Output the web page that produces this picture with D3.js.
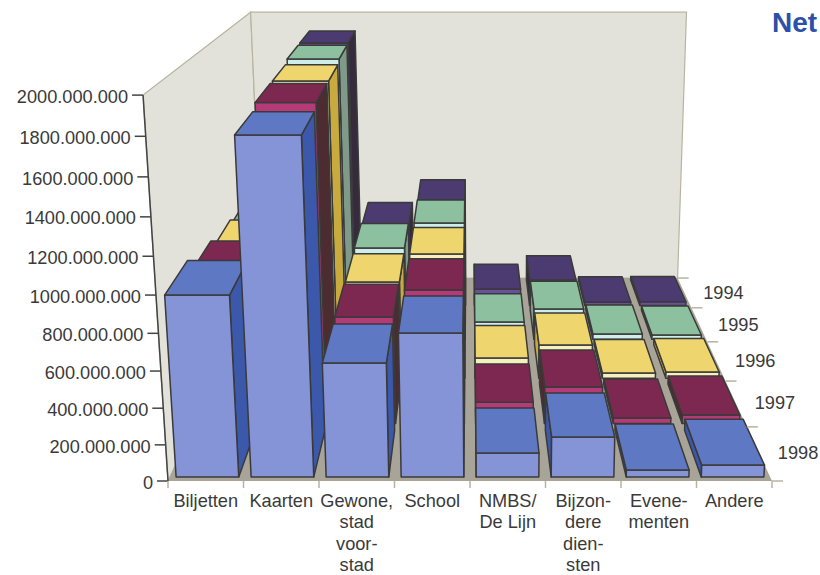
<!DOCTYPE html>
<html lang="nl">
<head>
  <meta charset="UTF-8">
  <title>Net</title>
  <script src="https://d3js.org/d3.v7.min.js"></script>
  <style>
    body { margin: 0; background: #fff; overflow: hidden; }
    text { font-family: "Liberation Sans", Arial, sans-serif; font-size: 18.2px; fill: #3a3a3a; }
    #heading { font-size: 28px; font-weight: 700; fill: #2c50a8; }
  </style>
</head>
<body>
  <div id="chart"></div>
  <script>
    // Data
    const categories = ["Biljetten", "Kaarten", "Gewone", "School", "NMBS", "Bijzonder", "Evenementen", "Andere"];
    const categoryLabels = [
      ["Biljetten"], ["Kaarten"], ["Gewone,", "stad", "voor-", "stad"], ["School"],
      ["NMBS/", "De Lijn"], ["Bijzon-", "dere", "dien-", "sten"], ["Evene-", "menten"], ["Andere"]
    ];
    const years = ["1998", "1997", "1996", "1995", "1994"];
    const values1998 = [984e6, 1796e6, 624e6, 784e6, 133e6, 222e6, 38e6, 66e6];
    const values1997 = [895e6, 1827e6, 630e6, 787e6, 128e6, 218e6, 33e6, 51e6];
    const values1996 = [836e6, 1825e6, 613e6, 787e6, 130e6, 214e6, 33e6, 40e6];
    const values1995 = [800e6, 1846e6, 623e6, 789e6, 119e6, 209e6, 37e6, 30e6];
    const values1994 = [780e6, 1848e6, 593e6, 765e6, 122e6, 188e6, 26e6, 28e6];
    const seriesValues = [values1998, values1997, values1996, values1995, values1994];
    const yTicks = [0, 200e6, 400e6, 600e6, 800e6, 1000e6, 1200e6, 1400e6, 1600e6, 1800e6, 2000e6];
    const yTickLabels = ["0", "200.000.000", "400.000.000", "600.000.000", "800.000.000", "1000.000.000",
      "1200.000.000", "1400.000.000", "1600.000.000", "1800.000.000", "2000.000.000"];

    // Face colours per year, same order as years
    const frontColors = ["#8494d6", "#b53a78", "#f6efbe", "#cdeeea", "#6a4f9c"];
    const topColors = ["#5f78c4", "#7d2850", "#efd56e", "#8cc09e", "#4b3b70"];
    const sideColors = ["#3c58aa", "#4c2c30", "#c8aa3e", "#7f9a88", "#352b3c"];

    const width = 820;
    const height = 575;

    const svg = d3.select("#chart").append("svg")
      .attr("width", width)
      .attr("height", height);

    // Scales: category across, year into the page, value upward
    const floorWidth = 604;
    const xScale = d3.scaleBand().domain(categories).range([0, floorWidth])
      .paddingInner(0.165).paddingOuter(0.0825);
    const depthScale = d3.scaleBand().domain(years).range([0, 1])
      .paddingInner(0.14).paddingOuter(0.07);
    const valueScale = d3.scaleLinear().domain([0, 2000e6]).range([0, 1]);

    // Perspective: vanishing points for depth and for the vertical
    const origin = [168, 481];
    const vanishDepth = [470, -168], vanishUp = [499, 5600];
    const depthK = 0.455, upK = -0.0701;

    function project(xOff, depth, value) {
      const k = depthK * depth;
      const n = upK * valueScale(value);
      const w = 1 + k + n;
      return [
        (origin[0] + xOff + k * vanishDepth[0] + n * vanishUp[0]) / w,
        (origin[1] + k * vanishDepth[1] + n * vanishUp[1]) / w
      ];
    }

    const line = d3.line();
    const poly = pts => line(pts) + "Z";

    // Walls and floor
    const wallTop = 2000e6;
    const backWallTop = 1975e6; // back wall stops a little under the axis top
    const wallStroke = "#b8b4a0";
    const walls = [
      [project(0, 0, 0), project(0, 0, wallTop), project(0, 1, backWallTop), project(0, 1, 0)],
      [project(0, 1, 0), project(0, 1, backWallTop), project(floorWidth, 1, backWallTop), project(floorWidth, 1, 0)]
    ];
    svg.append("g").selectAll("path")
      .data(walls)
      .join("path")
      .attr("d", poly)
      .attr("fill", "#e3e2da")
      .attr("stroke", wallStroke)
      .attr("stroke-width", 1.2);

    svg.append("path")
      .attr("d", poly([project(0, 0, 0), project(floorWidth, 0, 0), project(floorWidth, 1, 0), project(0, 1, 0)]))
      .attr("fill", "#a8a497");

    // Bars: back row first, then outside columns towards the centre
    const columnOrder = [0, 1, 2, 3, 7, 6, 5, 4];
    const faces = [];
    d3.range(years.length - 1, -1, -1).forEach(row => {
      const d0 = depthScale(years[row]);
      const d1 = d0 + depthScale.bandwidth();
      columnOrder.forEach(c => {
        const x0 = xScale(categories[c]);
        const x1 = x0 + xScale.bandwidth();
        const v = seriesValues[row][c];
        const sideX = c < 4 ? x1 : x0;
        faces.push({ fill: sideColors[row], pts: [project(sideX, d0, 0), project(sideX, d1, 0), project(sideX, d1, v), project(sideX, d0, v)] });
        faces.push({ fill: frontColors[row], pts: [project(x0, d0, 0), project(x1, d0, 0), project(x1, d0, v), project(x0, d0, v)] });
        faces.push({ fill: topColors[row], pts: [project(x0, d0, v), project(x1, d0, v), project(x1, d1, v), project(x0, d1, v)] });
      });
    });

    svg.append("g").selectAll("path")
      .data(faces)
      .join("path")
      .attr("d", d => poly(d.pts))
      .attr("fill", d => d.fill)
      .attr("stroke", "#3a3a3a")
      .attr("stroke-width", 1.5)
      .attr("stroke-linejoin", "round");

    // Value axis on the front left corner
    const axisColor = "#444";
    const yAxis = svg.append("g");
    yAxis.append("line")
      .attr("x1", project(0, 0, 0)[0]).attr("y1", project(0, 0, 0)[1])
      .attr("x2", project(0, 0, wallTop)[0]).attr("y2", project(0, 0, wallTop)[1])
      .attr("stroke", axisColor).attr("stroke-width", 1.5);
    yTicks.forEach((t, i) => {
      const p = project(0, 0, t);
      yAxis.append("line")
        .attr("x1", p[0] - 11).attr("x2", p[0])
        .attr("y1", p[1]).attr("y2", p[1])
        .attr("stroke", axisColor).attr("stroke-width", 1.5);
      yAxis.append("text")
        .attr("x", p[0] - 15).attr("y", p[1])
        .attr("dy", "0.42em")
        .attr("text-anchor", "end")
        .text(yTickLabels[i]);
    });

    // Category axis along the front of the floor
    const xAxis = svg.append("g");
    const step = xScale.step();
    d3.range(categories.length + 1).forEach(i => {
      const p = project(i * step, 0, 0);
      xAxis.append("line")
        .attr("x1", p[0]).attr("x2", p[0])
        .attr("y1", p[1]).attr("y2", p[1] + 7)
        .attr("stroke", wallStroke).attr("stroke-width", 1.5);
    });
    categories.forEach((c, i) => {
      const cx = project(xScale(c) + xScale.bandwidth() / 2, 0, 0)[0];
      const label = xAxis.append("text").attr("text-anchor", "middle");
      categoryLabels[i].forEach((txt, j) => {
        label.append("tspan").attr("x", cx).attr("y", 507 + j * 21.3).text(txt);
      });
    });

    // Year axis along the right side of the floor
    const depthAxis = svg.append("g");
    d3.range(years.length + 1).forEach(i => {
      const p = project(floorWidth, i * depthScale.step(), 0);
      depthAxis.append("line")
        .attr("x1", p[0]).attr("x2", p[0] + 11)
        .attr("y1", p[1]).attr("y2", p[1])
        .attr("stroke", wallStroke).attr("stroke-width", 1.5);
    });
    years.forEach(y => {
      const p = project(floorWidth, depthScale(y) + depthScale.bandwidth() / 2, 0);
      depthAxis.append("text")
        .attr("x", p[0] + 19).attr("y", p[1])
        .attr("dy", "0.35em")
        .text(y);
    });

    // Page heading, runs up to the edge of the page
    svg.append("text")
      .attr("id", "heading")
      .attr("x", 772).attr("y", 32)
      .text("Net");
  </script>
</body>
</html>
